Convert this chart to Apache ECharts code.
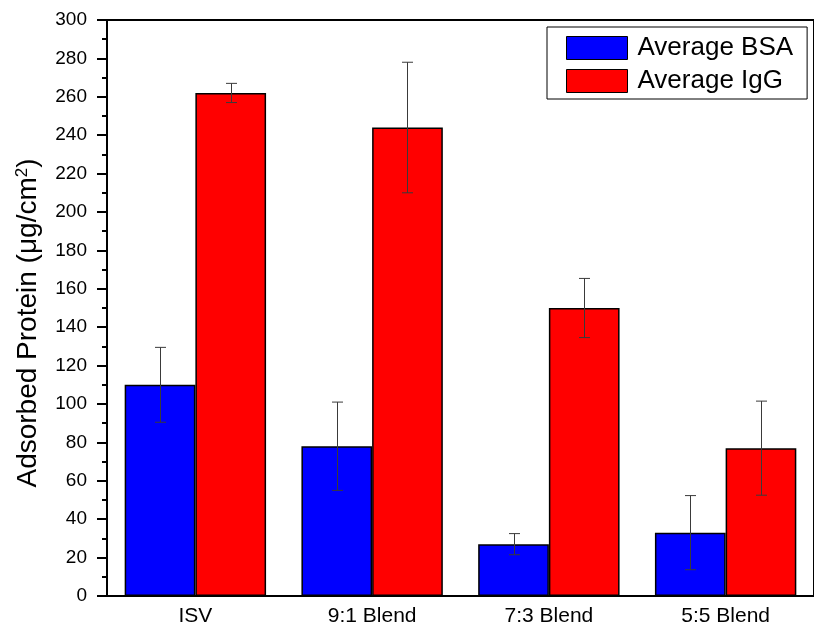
<!DOCTYPE html>
<html><head><meta charset="utf-8">
<script src="https://cdn.jsdelivr.net/npm/echarts@6/dist/echarts.min.js"></script>
<style>html,body{margin:0;padding:0;background:#fff}#c{width:814px;height:630px}</style>
</head><body><div id="c"></div>
<script>
const categories = ['ISV', '9:1 Blend', '7:3 Blend', '5:5 Blend'];
const bsaMean = [110, 78, 27, 33];
const bsaErr = [19.5, 23, 5.5, 19.3];
const iggMean = [262, 244, 150, 77];
const iggErr = [5, 34, 15.4, 24.5];
const yTicks = [0, 20, 40, 60, 80, 100, 120, 140, 160, 180, 200, 220, 240, 260, 280, 300];

const FONT = 'Liberation Sans';
const chart = echarts.init(document.getElementById('c'));

function errSeries(mean, err, side) {
  return {
    type: 'custom',
    z: 10,
    silent: true,
    data: mean.map((m, i) => [i, m - err[i], m + err[i]]),
    renderItem: function (params, api) {
      const band = api.size([1, 0])[0];
      const off = side * band * 0.2;
      const lo = api.coord([api.value(0), api.value(1)]);
      const hi = api.coord([api.value(0), api.value(2)]);
      const x = Math.round(lo[0] + off) + 0.5;
      const cap = 5.5;
      const style = { stroke: '#3a3a3a', lineWidth: 1 };
      return {
        type: 'group',
        children: [
          { type: 'line', shape: { x1: x, y1: lo[1], x2: x, y2: hi[1] }, style: style },
          { type: 'line', shape: { x1: x - cap, y1: lo[1], x2: x + cap, y2: lo[1] }, style: style },
          { type: 'line', shape: { x1: x - cap, y1: hi[1], x2: x + cap, y2: hi[1] }, style: style }
        ]
      };
    }
  };
}

chart.setOption({
  animation: false,
  textStyle: { fontFamily: FONT },
  grid: { left: 107, top: 20, width: 714, height: 576, show: true, borderColor: '#000', borderWidth: 2, backgroundColor: 'transparent' },
  legend: {
    orient: 'vertical',
    left: 547, top: 27,
    icon: 'rect',
    itemWidth: 61, itemHeight: 23, itemGap: 7,
    padding: [8, 14, 5, 19],
    borderColor: '#000', borderWidth: 1,
    textStyle: { fontSize: 26, lineHeight: 26, color: '#000', fontFamily: FONT, padding: [0, 0, 0, 5] },
    itemStyle: { borderColor: '#000', borderWidth: 1 },
    data: ['Average BSA', 'Average IgG']
  },
  xAxis: {
    type: 'category',
    data: categories,
    axisLine: { lineStyle: { color: '#000', width: 2 } },
    axisTick: { show: false },
    axisLabel: { fontSize: 21, color: '#000', margin: 10, fontFamily: FONT }
  },
  yAxis: {
    type: 'value', min: 0, max: 300, interval: 20,
    name: 'Adsorbed Protein (μg/cm{sup|2})',
    nameLocation: 'middle', nameGap: 64,
    nameTextStyle: { fontSize: 28, color: '#000', fontFamily: FONT, padding: [0, 30, 0, 0],
      rich: { sup: { fontSize: 17, color: '#000', fontFamily: FONT, padding: [0, 0, 12, 0] } } },
    axisLine: { show: true, lineStyle: { color: '#000', width: 2 } },
    axisTick: { show: true, length: 10, lineStyle: { color: '#000', width: 2 } },
    minorTick: { show: true, splitNumber: 2, length: 5, lineStyle: { color: '#000', width: 2 } },
    splitLine: { show: false },
    axisLabel: { fontSize: 19, color: '#000', margin: 20, fontFamily: FONT,
      formatter: v => yTicks.includes(v) ? String(v) : '' }
  },
  series: [
    { name: 'Average BSA', type: 'bar', data: bsaMean, barGap: '0%', barCategoryGap: '20%',
      itemStyle: { color: '#0000ff', borderColor: '#000', borderWidth: 1.5 } },
    { name: 'Average IgG', type: 'bar', data: iggMean,
      itemStyle: { color: '#ff0000', borderColor: '#000', borderWidth: 1.5 } },
    errSeries(bsaMean, bsaErr, -1),
    errSeries(iggMean, iggErr, 1)
  ]
});
</script></body></html>
